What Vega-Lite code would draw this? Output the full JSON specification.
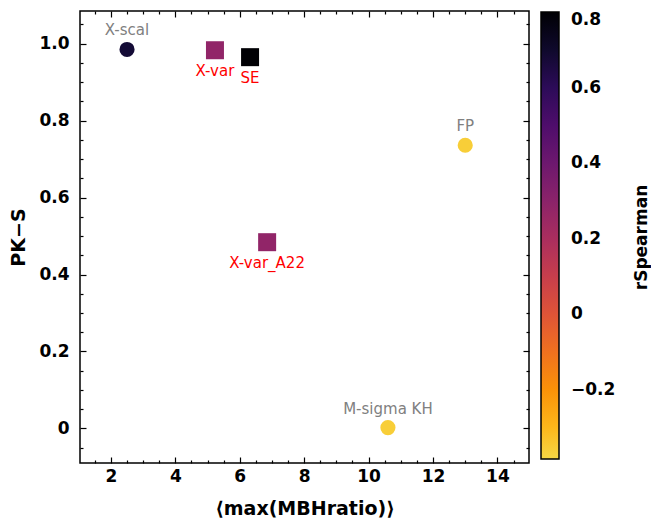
{
  "$schema": "https://vega.github.io/schema/vega-lite/v6.json",
  "width": 449,
  "height": 452,
  "autosize": "none",
  "padding": {"left": 80, "top": 11, "right": 122, "bottom": 65},
  "config": {
    "view": {"stroke": "#000000", "strokeWidth": 1.5},
    "font": "DejaVu Sans",
    "axis": {"domain": false, "grid": false, "tickColor": "#000000", "tickWidth": 1.2, "labelFont": "DejaVu Sans", "labelFontWeight": "bold", "labelFontSize": 17, "labelColor": "#000000", "titleFont": "DejaVu Sans", "titleFontWeight": "bold", "titleFontSize": 19, "titleColor": "#000000"},
    "legend": {"labelFont": "DejaVu Sans", "labelFontWeight": "bold", "labelFontSize": 17, "labelColor": "#000000"}
  },
  "data": {"values": [
    {"name": "X-scal", "mbh": 2.5, "pks": 0.985, "rSpearman": 0.68, "marker": "circle"},
    {"name": "X-var", "mbh": 5.23, "pks": 0.983, "rSpearman": 0.28, "marker": "square"},
    {"name": "SE", "mbh": 6.32, "pks": 0.965, "rSpearman": 0.8, "marker": "square"},
    {"name": "X-var_A22", "mbh": 6.85, "pks": 0.484, "rSpearman": 0.28, "marker": "square"},
    {"name": "FP", "mbh": 13.0, "pks": 0.736, "rSpearman": -0.36, "marker": "circle"},
    {"name": "M-sigma KH", "mbh": 10.6, "pks": 0.002, "rSpearman": -0.36, "marker": "circle"}
  ]},
  "resolve": {"axis": {"x": "independent", "y": "independent"}},
  "layer": [
    {
      "transform": [{"filter": "datum.marker === 'circle'"}],
      "mark": {"type": "point", "shape": "circle", "filled": true, "opacity": 1, "size": 230},
      "encoding": {
        "x": {"field": "mbh", "type": "quantitative", "scale": {"domain": [1.04, 14.98], "nice": false, "zero": false},
          "axis": {"orient": "bottom", "values": [2, 4, 6, 8, 10, 12, 14], "tickSize": -6, "labelPadding": 11, "title": "⟨max(MBHratio)⟩", "titlePadding": 15}},
        "y": {"field": "pks", "type": "quantitative", "scale": {"domain": [-0.09, 1.085], "nice": false, "zero": false},
          "axis": {"orient": "left", "values": [0, 0.2, 0.4, 0.6, 0.8, 1.0], "tickSize": -6, "labelPadding": 17, "labelExpr": "datum.value == 0 ? '0' : format(datum.value, '.1f')", "title": "PK−S", "titlePadding": 10}},
        "color": {"field": "rSpearman", "type": "quantitative",
          "scale": {"scheme": {"name": "inferno", "extent": [0.9, 0]}, "domain": [-0.383, 0.8], "nice": false},
          "legend": {"title": null, "orient": "none", "legendX": 461, "legendY": 1, "padding": 0, "direction": "vertical", "gradientLength": 447, "gradientThickness": 18, "gradientStrokeColor": "#000000", "gradientStrokeWidth": 1.5, "values": [-0.2, 0, 0.2, 0.4, 0.6, 0.8], "format": ".1~f", "labelOffset": 12, "labelOverlap": false, "labelBaseline": "middle"}}
      }
    },
    {
      "transform": [{"filter": "datum.marker === 'square'"}],
      "mark": {"type": "point", "shape": "square", "filled": true, "opacity": 1, "size": 324},
      "encoding": {
        "x": {"field": "mbh", "type": "quantitative", "axis": {"orient": "top", "values": [2, 4, 6, 8, 10, 12, 14], "tickSize": -6, "labels": false, "title": null}},
        "y": {"field": "pks", "type": "quantitative", "axis": {"orient": "right", "values": [0, 0.2, 0.4, 0.6, 0.8, 1.0], "tickSize": -6, "labels": false, "title": "rSpearman", "titleAngle": -90, "titleBaseline": "middle", "titlePadding": 112, "titleFontSize": 17}},
        "color": {"field": "rSpearman", "type": "quantitative"}
      }
    },
    {
      "transform": [{"filter": "datum.marker === 'circle'"}],
      "mark": {"type": "text", "color": "#808080", "fontSize": 15, "dy": -19, "baseline": "middle", "align": "center"},
      "encoding": {
        "x": {"field": "mbh", "type": "quantitative", "axis": {"orient": "bottom", "values": [1.5, 2.5, 3, 3.5, 4.5, 5, 5.5, 6.5, 7, 7.5, 8.5, 9, 9.5, 10.5, 11, 11.5, 12.5, 13, 13.5, 14.5], "tickSize": -3, "labels": false, "title": null}},
        "y": {"field": "pks", "type": "quantitative", "axis": {"orient": "left", "values": [-0.05, 0.05, 0.1, 0.15, 0.25, 0.3, 0.35, 0.45, 0.5, 0.55, 0.65, 0.7, 0.75, 0.85, 0.9, 0.95, 1.05], "tickSize": -3, "labels": false, "title": null}},
        "text": {"field": "name"}
      }
    },
    {
      "transform": [{"filter": "datum.marker === 'square'"}],
      "mark": {"type": "text", "color": "#ff0000", "fontSize": 15, "dy": 21, "baseline": "middle", "align": "center"},
      "encoding": {
        "x": {"field": "mbh", "type": "quantitative", "axis": {"orient": "top", "values": [1.5, 2.5, 3, 3.5, 4.5, 5, 5.5, 6.5, 7, 7.5, 8.5, 9, 9.5, 10.5, 11, 11.5, 12.5, 13, 13.5, 14.5], "tickSize": -3, "labels": false, "title": null}},
        "y": {"field": "pks", "type": "quantitative", "axis": {"orient": "right", "values": [-0.05, 0.05, 0.1, 0.15, 0.25, 0.3, 0.35, 0.45, 0.5, 0.55, 0.65, 0.7, 0.75, 0.85, 0.9, 0.95, 1.05], "tickSize": -3, "labels": false, "title": null}},
        "text": {"field": "name"}
      }
    }
  ]
}
